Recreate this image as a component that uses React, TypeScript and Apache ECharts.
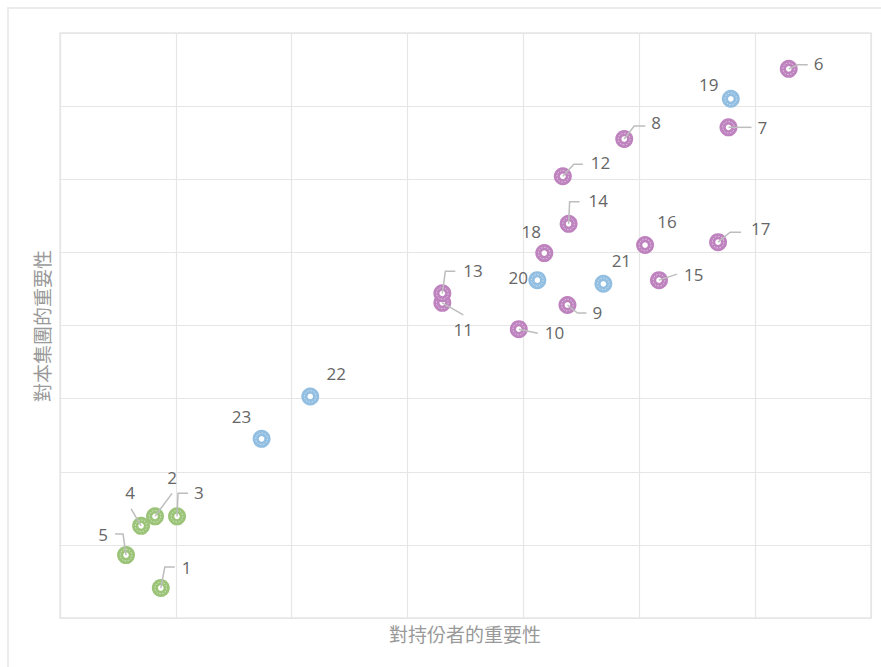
import React, { useEffect, useRef } from "react";
import * as echarts from "echarts";

// ---- data ----
const pointLabels = ["1","2","3","4","5","6","7","8","9","10","11","12","13","14","15","16","17","18","19","20","21","22","23"];
const stakeholderImportance = [0.87,0.82,1.01,0.70,0.57,6.29,5.77,4.87,4.38,3.96,3.30,4.34,3.30,4.39,5.17,5.05,5.68,4.18,5.79,4.12,4.69,2.16,1.74];
const groupImportance = [0.41,1.39,1.39,1.26,0.86,7.51,6.71,6.55,4.28,3.95,4.31,6.04,4.44,5.39,4.62,5.10,5.14,4.99,7.10,4.62,4.57,3.03,2.45];
const groupIndex = [0,0,0,0,0,1,1,1,1,1,1,1,1,1,1,1,1,1,2,2,2,2,2];
const xAxisTitle = "對持份者的重要性";
const yAxisTitle = "對本集團的重要性";

// ---- styling (label leader lines / offsets in px, relative to the point) ----
const groupColors = ["#9BC478", "#BE82BE", "#91BEE1"];
const leaders: number[][][] = [
  [[0,0],[4,-21],[14,-21]],
  [[0,0],[17,-23]],
  [[0,0],[1,-23],[11,-23]],
  [[0,0],[-10,-17]],
  [[0,0],[-3,-21],[-11,-21]],
  [[0,0],[9,-4],[19,-4]],
  [[0,0],[23,0]],
  [[0,0],[10,-13],[21,-13]],
  [[0,0],[10,8],[19,8]],
  [[0,0],[19,4]],
  [[0,0],[21,12]],
  [[0,0],[11,-12],[20,-12]],
  [[0,0],[3,-22],[13,-22]],
  [[0,0],[1,-22],[11,-22]],
  [[0,0],[18,-6]],
  [],
  [[0,0],[12,-10],[23,-10]],
  [],
  [],
  [],
  [],
  [],
  [],
];
const labelPos: [number, number, string][] = [
  [21,-21,"left"],
  [17,-39,"center"],
  [17,-24,"left"],
  [-11,-33,"center"],
  [-18,-21,"right"],
  [25,-5,"left"],
  [29,0,"left"],
  [27,-17,"left"],
  [25,7,"left"],
  [26,3,"left"],
  [21,27,"center"],
  [28,-14,"left"],
  [21,-23,"left"],
  [20,-23,"left"],
  [25,-6,"left"],
  [22,-24,"center"],
  [33,-14,"left"],
  [-13,-22,"center"],
  [-22,-14,"center"],
  [-19,-3,"center"],
  [18,-23,"center"],
  [26,-23,"center"],
  [-20,-22,"center"],
];

export default function App() {
  const ref = useRef<HTMLDivElement>(null);
  useEffect(() => {
    document.body.style.overflow = "hidden";
    document.documentElement.style.overflow = "hidden";
    const chart = echarts.init(ref.current!, null, { renderer: "svg" });
    const seriesData = [0, 1, 2].map((g) =>
      pointLabels
        .map((_, i) => i)
        .filter((i) => groupIndex[i] === g)
        .map((i) => [stakeholderImportance[i], groupImportance[i], i])
    );
    const renderMarker = (params: any, api: any) => {
      const idx = api.value(2);
      const pt = api.coord([api.value(0), api.value(1)]);
      const color = groupColors[groupIndex[idx]];
      const children: any[] = [
        { type: "circle", shape: { cx: pt[0], cy: pt[1], r: 9 }, style: { fill: color } },
        {
          type: "circle",
          shape: { cx: pt[0], cy: pt[1], r: 5.8 },
          style: { fill: "none", stroke: "rgba(255,255,255,0.55)", lineWidth: 1, lineDash: [1.5, 1.5] },
        },
        { type: "circle", shape: { cx: pt[0], cy: pt[1], r: 2.8 }, style: { fill: "#fff" } },
      ];
      const lead = leaders[idx];
      if (lead.length > 1) {
        children.push({
          type: "polyline",
          shape: { points: lead.map((p) => [pt[0] + p[0], pt[1] + p[1]]) },
          style: { stroke: "#bdbdbd", lineWidth: 1.5, fill: "none" },
        });
      }
      const lp = labelPos[idx];
      children.push({
        type: "text",
        x: pt[0] + lp[0],
        y: pt[1] + lp[1],
        style: {
          text: pointLabels[idx],
          fill: "#666",
          fontSize: 17,
          fontFamily: "Open Sans",
          align: lp[2],
          verticalAlign: "middle",
        },
      });
      return { type: "group", children };
    };
    chart.setOption({
      animation: false,
      grid: {
        left: 60,
        top: 33,
        width: 811,
        height: 585,
        show: true,
        borderColor: "#e6e6e6",
        borderWidth: 1.5,
      },
      xAxis: {
        type: "value",
        min: 0,
        max: 7,
        interval: 1,
        axisLabel: { show: false },
        axisTick: { show: false },
        axisLine: { show: false },
        splitLine: { lineStyle: { color: "#e6e6e6", width: 1.2 } },
      },
      yAxis: {
        type: "value",
        min: 0,
        max: 8,
        interval: 1,
        axisLabel: { show: false },
        axisTick: { show: false },
        axisLine: { show: false },
        splitLine: { lineStyle: { color: "#e6e6e6", width: 1.2 } },
      },
      graphic: [
        {
          type: "text",
          x: 465,
          y: 633,
          style: {
            text: xAxisTitle,
            fill: "#999",
            fontSize: 19,
            fontFamily: "Noto Sans CJK TC",
            align: "center",
            verticalAlign: "middle",
          },
        },
        {
          type: "text",
          x: 41,
          y: 326,
          rotation: Math.PI / 2,
          style: {
            text: yAxisTitle,
            fill: "#999",
            fontSize: 19,
            fontFamily: "Noto Sans CJK TC",
            align: "center",
            verticalAlign: "middle",
          },
        },
      ],
      series: seriesData.map((d, g) => ({
        type: "custom",
        name: "group" + g,
        data: d,
        encode: { x: 0, y: 1 },
        renderItem: renderMarker,
        z: 2 + g,
      })),
    });
    return () => chart.dispose();
  }, []);
  return (
    <div>
      <div
        style={{
          position: "absolute",
          left: 7,
          top: 7,
          width: 1000,
          height: 800,
          border: "2px solid #ececec",
        }}
      />
      <div ref={ref} style={{ position: "absolute", left: 0, top: 0, width: 881, height: 667 }} />
    </div>
  );
}
